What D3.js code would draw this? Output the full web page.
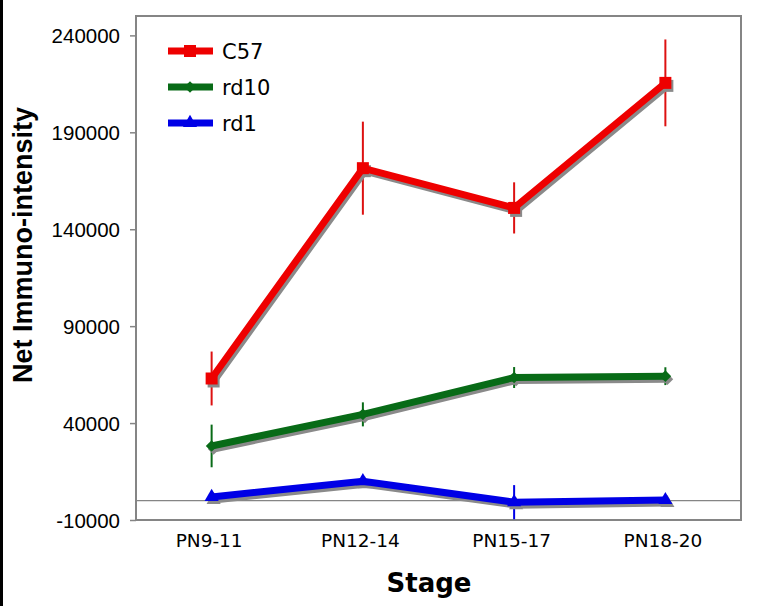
<!DOCTYPE html>
<html><head><meta charset="utf-8">
<script src="https://cdn.jsdelivr.net/npm/d3@7"></script>
<style>html,body{margin:0;padding:0;background:#fff;}svg{display:block;}</style>
</head><body>
<svg id="chart" width="759" height="606"></svg>
<script>
const categories = ["PN9-11", "PN12-14", "PN15-17", "PN18-20"];
const seriesNames = ["C57", "rd10", "rd1"];
const c57Values = [63000, 171500, 151000, 215500];
const c57Errors = [13900, 24000, 13200, 22400];
const rd10Values = [28200, 44500, 63500, 64200];
const rd10Errors = [11000, 6200, 5400, 4600];
const rd1Values = [1900, 10000, -800, 300];
const rd1Errors = [1200, 2500, 8800, 1200];
const yTicks = [-10000, 40000, 90000, 140000, 190000, 240000];
const yDomain = [-10000, 250000];

const series = [
  {name: seriesNames[0], values: c57Values, errors: c57Errors, color: "#ee0000", err: "#dd1111", marker: "square"},
  {name: seriesNames[1], values: rd10Values, errors: rd10Errors, color: "#086b17", err: "#086b17", marker: "diamond"},
  {name: seriesNames[2], values: rd1Values, errors: rd1Errors, color: "#0000e6", err: "#0000e6", marker: "triangle"}
];

const svg = d3.select("#chart");
const L = 136, R = 741, T = 16, B = 520;
svg.append("rect").attr("width", 759).attr("height", 606).attr("fill", "#fff");
svg.append("rect").attr("x", 0).attr("y", 0).attr("width", 3).attr("height", 606).attr("fill", "#000");

const x = d3.scalePoint().domain(categories).range([L, R]).padding(0.5);
const y = d3.scaleLinear().domain(yDomain).range([B, T]);

// frame
svg.append("rect").attr("x", L).attr("y", T).attr("width", R - L).attr("height", B - T)
  .attr("fill", "none").attr("stroke", "#858585").attr("stroke-width", 2);

// zero line
svg.append("line").attr("x1", L).attr("x2", R).attr("y1", y(0)).attr("y2", y(0))
  .attr("stroke", "#858585").attr("stroke-width", 1.2);

// y axis
const yAxis = d3.axisLeft(y).tickValues(yTicks).tickSize(6).tickPadding(10).tickFormat(d => String(d));
const ya = svg.append("g").attr("transform", `translate(${L},0)`).call(yAxis);
ya.select(".domain").remove();
ya.selectAll(".tick line").attr("stroke", "#858585").attr("stroke-width", 1.5);
ya.selectAll(".tick text").attr("font-family", "'Liberation Sans', Arial, sans-serif")
  .attr("font-size", 20.5).attr("fill", "#000").attr("dy", "0.35em");

// x axis labels
const xAxis = d3.axisBottom(x).tickSize(0).tickPadding(14);
const xa = svg.append("g").attr("transform", `translate(0,${B})`).call(xAxis);
xa.select(".domain").remove();
xa.selectAll(".tick text").attr("font-family", "'DejaVu Sans', Verdana, sans-serif")
  .attr("font-size", 18.5).attr("fill", "#000").attr("dy", "0.71em").attr("dx", -3);

// titles
svg.append("text").attr("x", 429).attr("y", 592).attr("text-anchor", "middle")
  .attr("font-family", "'DejaVu Sans', Verdana, sans-serif").attr("font-weight", "bold")
  .attr("font-size", 26).text("Stage");
svg.append("text").attr("transform", "translate(32,245) rotate(-90)").attr("text-anchor", "middle")
  .attr("font-family", "'Liberation Sans', Arial, sans-serif").attr("font-weight", "bold")
  .attr("font-size", 27).text("Net Immuno-intensity");

const line = d3.line().x((d, i) => x(categories[i])).y(d => y(d));

function markerPath(type, size) {
  if (type === "square") return d3.symbol().type(d3.symbolSquare).size(size * size)();
  if (type === "diamond") return d3.symbol().type(d3.symbolDiamond2 || d3.symbolDiamond).size(size * size * 0.6)();
  return d3.symbol().type(d3.symbolTriangle).size(size * size * 0.6)();
}

series.forEach(s => {
  const g = svg.append("g");
  g.selectAll("line.err").data(s.values).join("line")
    .attr("x1", (d, i) => x(categories[i])).attr("x2", (d, i) => x(categories[i]))
    .attr("y1", (d, i) => y(d + s.errors[i])).attr("y2", (d, i) => y(d - s.errors[i]))
    .attr("stroke", s.err).attr("stroke-width", 2);
  g.append("path").attr("d", line(s.values)).attr("transform", "translate(2,3)")
    .attr("fill", "none").attr("stroke", "#8a8a8a").attr("stroke-width", 7).attr("stroke-linejoin", "miter");
  g.selectAll("path.sm").data(s.values).join("path")
    .attr("transform", (d, i) => `translate(${x(categories[i]) + 2},${y(d) + 3})`)
    .attr("d", markerPath(s.marker, 12)).attr("fill", "#8a8a8a");
  g.append("path").attr("d", line(s.values))
    .attr("fill", "none").attr("stroke", s.color).attr("stroke-width", 7).attr("stroke-linejoin", "miter");
  g.selectAll("path.mk").data(s.values).join("path")
    .attr("transform", (d, i) => `translate(${x(categories[i])},${y(d)})`)
    .attr("d", markerPath(s.marker, 12)).attr("fill", s.color);
});

// legend
const lg = svg.append("g");
series.forEach((s, i) => {
  const yy = 51 + i * 36;
  lg.append("line").attr("x1", 168).attr("x2", 213).attr("y1", yy).attr("y2", yy)
    .attr("stroke", s.color).attr("stroke-width", 7);
  lg.append("path").attr("transform", `translate(190,${yy})`).attr("d", markerPath(s.marker, 12)).attr("fill", s.color);
  lg.append("text").attr("x", 222).attr("y", yy + 8).attr("font-family", "'DejaVu Sans', Verdana, sans-serif")
    .attr("font-size", 21).attr("fill", "#000").text(s.name);
});
</script>
</body></html>
